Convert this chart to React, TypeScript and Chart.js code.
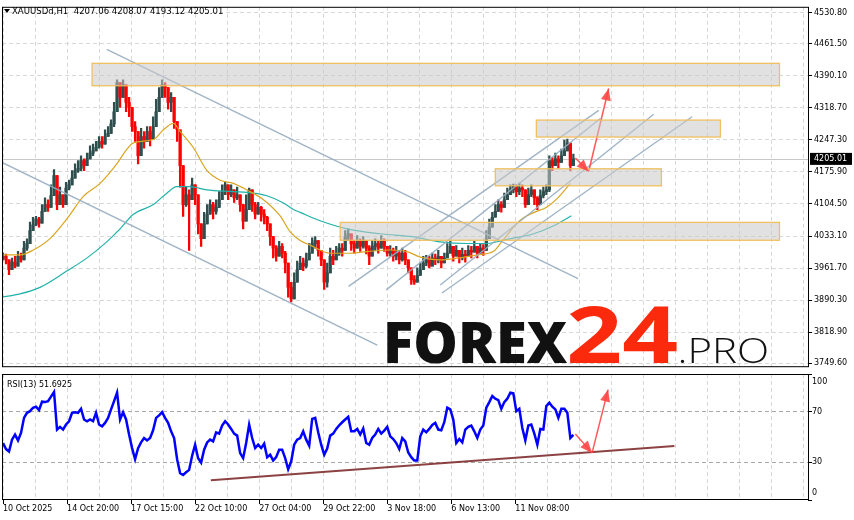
import React, { useEffect, useRef } from "react";
import { Chart, registerables } from "chart.js";

Chart.register(...registerables);

const FONT = "DejaVu Sans";
const TITLE = "XAUUSDd,H1  4207.06 4208.07 4193.12 4205.01";
const RSI_TITLE = "RSI(13) 51.6925";
const LAST_PRICE = 4205.01;

const PRICE_TICKS = [3749.6, 3818.9, 3890.3, 3961.7, 4033.1, 4104.5, 4175.9, 4247.3, 4318.7, 4390.1, 4461.5, 4530.8];
const RSI_TICKS = [0, 30, 70, 100];
const RSI_LEVELS = [30, 70];
const DATE_LABELS = ["10 Oct 2025", "14 Oct 20:00", "17 Oct 15:00", "22 Oct 10:00", "27 Oct 04:00", "29 Oct 22:00", "3 Nov 18:00", "6 Nov 13:00", "11 Nov 08:00"];
const LABEL_STEP = 64; // H1 bars between date labels
const GRID_STEP = 32; // H1 bars between vertical grid lines
const GRID_TICKS = Array.from({ length: 26 }, (_, i) => i * GRID_STEP);
const BAR_STEP = 3; // H1 bars represented by one drawn bar
const X_MIN = -1;
const X_MAX = 804.5;
const Y_MIN = 3740.7;
const Y_MAX = 4544.0;

const FIRST_OPEN = 3984;
const CLOSES = [
  3988, 3980, 3958, 3975, 3966, 3988, 3980, 4006, 4016, 4045,
  4058, 4071, 4062, 4088, 4103, 4097, 4123, 4168, 4103, 4125,
  4103, 4140, 4147, 4162, 4179, 4184, 4201, 4190, 4205, 4218,
  4223, 4231, 4244, 4238, 4255, 4262, 4283, 4310, 4375, 4342,
  4370, 4331, 4320, 4277, 4266, 4212, 4255, 4244, 4266, 4249,
  4277, 4310, 4342, 4370, 4364, 4331, 4342, 4288, 4270, 4190,
  4103, 4125, 4114, 4147, 4125, 4060, 4027, 4060, 4082, 4103,
  4088, 4097, 4114, 4132, 4147, 4125, 4136, 4118, 4125, 4103,
  4066, 4092, 4136, 4103, 4082, 4097, 4082, 4075, 4060, 4032,
  4006, 3988, 4010, 3995, 3973, 3919, 3893, 3930, 3958, 3973,
  3966, 3980, 3995, 4016, 4023, 4001, 3980, 3930, 3951, 3988,
  3980, 3995, 4006, 4001, 4032, 4038, 4016, 4006, 4023, 4010,
  4023, 4006, 3988, 4010, 4016, 4006, 4023, 4010, 3995, 4001,
  3988, 3995, 3980, 3995, 3980, 3962, 3936, 3930, 3945, 3958,
  3973, 3980, 3966, 3984, 3980, 3988, 3973, 3984, 3995, 4010,
  3988, 4001, 3984, 3992, 3988, 4001, 3997, 4010, 3995, 4006,
  4001, 4027, 4053, 4075, 4088, 4103, 4097, 4114, 4125, 4136,
  4144, 4132, 4140, 4136, 4103, 4125, 4136, 4118, 4103, 4123,
  4132, 4136, 4201, 4190, 4205, 4197, 4212, 4223, 4240, 4190, 4205.01,
];
const HIGHS = [
  3995, 3993, 3980, 3984, 3988, 3999, 3995, 4021, 4027, 4064,
  4075, 4077, 4075, 4103, 4118, 4114, 4147, 4181, 4125, 4142,
  4125, 4153, 4158, 4179, 4194, 4201, 4212, 4205, 4218, 4234,
  4238, 4244, 4255, 4255, 4270, 4277, 4292, 4331, 4381, 4368,
  4381, 4359, 4342, 4320, 4288, 4244, 4273, 4266, 4277, 4277,
  4299, 4338, 4364, 4381, 4375, 4359, 4353, 4310, 4288, 4244,
  4158, 4142, 4136, 4162, 4147, 4099, 4060, 4086, 4103, 4114,
  4108, 4114, 4132, 4147, 4153, 4142, 4147, 4136, 4142, 4125,
  4103, 4125, 4140, 4125, 4108, 4108, 4099, 4092, 4077, 4060,
  4016, 4012, 4021, 4016, 3999, 3962, 3930, 3951, 3977, 3988,
  3984, 3995, 4016, 4029, 4032, 4016, 3995, 3967, 3973, 4006,
  4001, 4010, 4016, 4016, 4045, 4049, 4032, 4023, 4034, 4027,
  4032, 4023, 4012, 4023, 4027, 4021, 4034, 4027, 4010, 4012,
  4006, 4010, 4001, 4006, 4001, 3980, 3962, 3945, 3962, 3973,
  3988, 3990, 3988, 3995, 3993, 4001, 3988, 3995, 4016, 4021,
  4006, 4012, 3999, 4006, 4001, 4012, 4010, 4021, 4010, 4016,
  4014, 4045, 4071, 4086, 4103, 4114, 4110, 4129, 4140, 4147,
  4149, 4147, 4151, 4147, 4129, 4140, 4147, 4132, 4121, 4136,
  4142, 4147, 4212, 4208, 4218, 4212, 4227, 4247, 4249, 4234, 4216,
];
const LOWS = [
  3980, 3971, 3947, 3962, 3962, 3977, 3975, 3990, 4001, 4034,
  4049, 4056, 4053, 4082, 4092, 4088, 4114, 4142, 4092, 4103,
  4097, 4132, 4136, 4158, 4168, 4175, 4179, 4179, 4197, 4208,
  4212, 4223, 4229, 4229, 4244, 4255, 4266, 4277, 4331, 4320,
  4349, 4310, 4299, 4266, 4244, 4194, 4229, 4229, 4244, 4234,
  4266, 4299, 4331, 4353, 4342, 4316, 4310, 4273, 4244, 4142,
  4077, 4099, 4001, 4125, 4103, 4038, 4010, 4043, 4060, 4082,
  4071, 4082, 4103, 4114, 4125, 4114, 4121, 4108, 4114, 4088,
  4049, 4071, 4114, 4088, 4071, 4082, 4066, 4060, 4045, 4012,
  3984, 3977, 3995, 3984, 3951, 3897, 3886, 3908, 3941, 3958,
  3956, 3962, 3988, 4006, 4006, 3988, 3967, 3914, 3919, 3973,
  3969, 3984, 3990, 3988, 4016, 4023, 4001, 3995, 4006, 3999,
  4006, 3993, 3969, 3995, 4001, 3995, 4006, 3999, 3988, 3988,
  3977, 3980, 3971, 3977, 3969, 3951, 3925, 3925, 3930, 3945,
  3962, 3967, 3962, 3971, 3969, 3973, 3962, 3973, 3984, 3995,
  3977, 3988, 3973, 3980, 3975, 3988, 3984, 3997, 3984, 3993,
  3990, 4012, 4038, 4060, 4075, 4088, 4086, 4103, 4114, 4125,
  4129, 4121, 4125, 4121, 4097, 4114, 4121, 4103, 4092, 4110,
  4118, 4125, 4132, 4179, 4190, 4184, 4201, 4212, 4223, 4179, 4194,
];

const RSI = [
  45.2, 40.4, 38.5, 47.9, 51.9, 47.3, 53.2, 65.2, 69.2, 70.5,
  73.2, 74.0, 71.3, 78.0, 77.7, 78.5, 82.0, 85.7, 55.9, 58.0,
  55.9, 59.9, 62.5, 69.2, 69.7, 69.2, 72.4, 63.9, 62.5, 63.9,
  62.5, 69.2, 59.9, 58.5, 61.2, 65.2, 71.9, 78.5, 85.2, 63.9,
  69.7, 63.9, 51.9, 41.2, 32.4, 41.2, 45.7, 49.2, 47.3, 49.2,
  55.3, 65.2, 67.1, 69.7, 65.2, 61.2, 54.5, 49.2, 32.4, 21.2,
  19.9, 22.0, 23.9, 35.1, 43.9, 33.2, 29.7, 39.9, 45.7, 47.9,
  46.5, 53.7, 52.7, 59.1, 62.5, 59.9, 56.4, 52.7, 51.1, 37.2,
  33.2, 45.2, 59.9, 49.2, 41.2, 43.9, 41.2, 44.7, 34.0, 35.9,
  31.3, 34.0, 39.9, 39.9, 33.2, 24.4, 30.5, 43.9, 47.9, 49.2,
  54.5, 47.9, 43.1, 64.4, 65.2, 53.7, 43.9, 35.9, 40.9, 51.1,
  52.7, 56.4, 59.3, 61.7, 63.9, 66.0, 54.5, 54.5, 56.4, 51.9,
  56.7, 45.2, 43.9, 49.2, 51.9, 56.4, 52.7, 55.1, 58.0, 50.5,
  48.4, 45.2, 40.4, 49.2, 46.5, 37.7, 34.0, 31.3, 31.3, 50.5,
  55.9, 53.7, 56.4, 59.6, 61.2, 55.9, 55.3, 61.7, 73.2, 71.9,
  63.9, 45.2, 48.4, 45.7, 55.9, 58.0, 59.1, 54.5, 49.2, 55.9,
  59.1, 73.2, 77.7, 82.5, 80.4, 79.3, 72.4, 77.7, 80.4, 85.2,
  84.7, 70.5, 72.4, 57.2, 47.3, 59.1, 59.9, 52.7, 43.9, 56.4,
  55.9, 74.5, 77.2, 74.0, 71.9, 65.2, 72.4, 72.4, 69.2, 49.2, 51.6925,
];

const MA_FAST_X = [0.3, 17, 30.3, 47, 63.7, 80.3, 97, 113.7, 123.7, 130.3, 150.3, 160.3, 170.3, 177, 190.3, 203.7, 217, 230.3, 243.7, 260.3, 277, 287, 297, 307, 327, 343.7, 363.7, 387, 403.7, 417, 437, 453.7, 473.7, 490.3, 500, 517, 530.3, 543.7, 553.7, 567];
const MA_FAST_Y = [3991, 3991, 4001.9, 4027.3, 4070.7, 4121.3, 4150.4, 4193.8, 4226.3, 4240.7, 4248.1, 4269.8, 4284.1, 4266.1, 4229.8, 4179.2, 4157.5, 4150.4, 4135.8, 4114.1, 4077.8, 4042.5, 4022.9, 4012.7, 3994.7, 3994.7, 3998.4, 4001.9, 3998.4, 3986, 3980.1, 3983.8, 3991, 3999, 4025.1, 4068.5, 4085.2, 4097.8, 4116.3, 4150.4];
const MA_SLOW_X = [-1, 17, 37, 63.7, 83.7, 103.7, 117, 130.3, 150.3, 163.7, 173.7, 187, 203.7, 230.3, 250.3, 263.7, 280.3, 290.3, 297, 317, 343.7, 377, 410.3, 437, 463.7, 483.7, 503.7, 530.3, 550.3, 568];
const MA_SLOW_Y = [3897, 3904.2, 3918.7, 3954.9, 3983.8, 4020.1, 4049, 4081.5, 4103.2, 4128.6, 4143, 4143, 4135.8, 4132.1, 4128.6, 4122.8, 4106.9, 4092.4, 4085.9, 4067, 4049, 4038.1, 4031, 4020.1, 4016.4, 4016.4, 4025.7, 4038.1, 4056.1, 4078.3];

// zones: bar position from/to, top price, bottom price
const ZONE_X1 = [89, 533, 492, 337];
const ZONE_X2 = [776, 717, 658, 776];
const ZONE_TOP = [4418, 4291.5, 4183, 4063.5];
const ZONE_BOT = [4368, 4253.7, 4145, 4023.6];

// trend lines: [x1, price1, x2, price2]
const TREND_LINES = [
  [103.7, 4449, 574.7, 3938],
  [-1, 4197, 374, 3790],
  [345.3, 3921, 595.3, 4313],
  [383, 3913, 597, 4295],
  [437, 3924, 650.3, 4304.5],
  [438.7, 3906, 688.7, 4299],
];
const PRICE_ARROWS = [
  [572, 4207, 585.3, 4177],
  [585.3, 4177, 605.3, 4362],
];
const RSI_ARROWS = [
  [572, 52.4, 588.7, 37.4],
  [588.7, 37.4, 604.7, 87.6],
];
const RSI_TREND = [207.7, 15.6, 671, 42.8];

const BULL = "#2f4f4f";
const BEAR = "#ff0000";
const GRID = "#d8d8d8";
const ARROW = "rgba(255,70,70,0.9)";
const TREND = "rgba(150,172,192,0.9)";

function seg(l: number[], color: string, width: number, order: number) {
  return {
    type: "line",
    data: [{ x: l[0], y: l[1] }, { x: l[2], y: l[3] }],
    borderColor: color,
    borderWidth: width,
    pointRadius: 0,
    fill: false,
    tension: 0,
    order,
  };
}

function drawHead(ctx: CanvasRenderingContext2D, x1: number, y1: number, x2: number, y2: number) {
  const ang = Math.atan2(y2 - y1, x2 - x1);
  const len = 12;
  const w = 5;
  ctx.save();
  ctx.fillStyle = ARROW;
  ctx.beginPath();
  ctx.moveTo(x2, y2);
  ctx.lineTo(x2 - len * Math.cos(ang) + w * Math.sin(ang), y2 - len * Math.sin(ang) - w * Math.cos(ang));
  ctx.lineTo(x2 - len * Math.cos(ang) - w * Math.sin(ang), y2 - len * Math.sin(ang) + w * Math.cos(ang));
  ctx.closePath();
  ctx.fill();
  ctx.restore();
}

function drawWord(ctx: CanvasRenderingContext2D, text: string, weight: number, size: number, family: string, color: string, left: number, right: number, baseline: number) {
  ctx.save();
  ctx.font = `${weight} ${size}px "${family}"`;
  ctx.textAlign = "left";
  ctx.textBaseline = "alphabetic";
  const m = ctx.measureText(text);
  const inkW = m.actualBoundingBoxLeft + m.actualBoundingBoxRight;
  const sx = (right - left) / inkW;
  ctx.translate(left, baseline);
  ctx.scale(sx, 1);
  ctx.fillStyle = color;
  ctx.fillText(text, m.actualBoundingBoxLeft, 0);
  ctx.restore();
}

function xScale(withLabels: boolean) {
  return {
    type: "linear",
    min: X_MIN,
    max: X_MAX,
    offset: false,
    afterBuildTicks: (s: any) => {
      s.ticks = GRID_TICKS.map((v) => ({ value: v }));
    },
    afterFit: (s: any) => {
      s.height = withLabels ? 20 : 0;
    },
    ticks: {
      display: withLabels,
      autoSkip: false,
      maxRotation: 0,
      minRotation: 0,
      align: "start",
      padding: 0,
      color: "#000",
      font: { family: FONT, size: 8 },
      callback: (v: any) => {
        const i = Number(v) / LABEL_STEP;
        return Number.isInteger(i) && i < DATE_LABELS.length ? DATE_LABELS[i] : "";
      },
    },
    grid: {
      color: GRID,
      lineWidth: 1,
      offset: false,
      drawTicks: withLabels,
      tickLength: 4,
      tickWidth: 1,
      tickBorderDash: [],
      tickColor: (c: any) => {
        const v = c.tick ? c.tick.value : -1;
        return v % LABEL_STEP === 0 && v / LABEL_STEP < DATE_LABELS.length ? "#000" : "rgba(0,0,0,0)";
      },
    },
    border: { display: false, dash: [4, 3] },
  };
}

export default function App() {
  const mainRef = useRef<HTMLCanvasElement | null>(null);
  const rsiRef = useRef<HTMLCanvasElement | null>(null);

  useEffect(() => {
    const opens = CLOSES.map((c, k) => (k === 0 ? FIRST_OPEN : CLOSES[k - 1]));
    const barColors = CLOSES.map((c, k) => (c >= opens[k] ? BULL : BEAR));
    const rangeData = CLOSES.map((c, k) => ({
      x: k * BAR_STEP,
      y: [Math.min(LOWS[k], opens[k], c), Math.max(HIGHS[k], opens[k], c)],
    }));
    const bodyData = CLOSES.map((c, k) => ({ x: k * BAR_STEP, y: [opens[k], c] }));

    const mainDecor = {
      id: "mainDecor",
      beforeDatasetsDraw(chart: any) {
        const { ctx, chartArea: a, scales } = chart;
        const py = Math.round(scales.y.getPixelForValue(LAST_PRICE)) + 0.5;
        ctx.save();
        ctx.strokeStyle = "#c8c8c8";
        ctx.lineWidth = 1;
        ctx.beginPath();
        ctx.moveTo(a.left, py);
        ctx.lineTo(a.right, py);
        ctx.stroke();
        ctx.restore();
      },
      afterDatasetsDraw(chart: any) {
        const { ctx, scales } = chart;
        const xs = scales.x;
        const ys = scales.y;
        ctx.save();
        for (let i = 0; i < ZONE_X1.length; i++) {
          const x1 = xs.getPixelForValue(ZONE_X1[i]);
          const x2 = xs.getPixelForValue(ZONE_X2[i]);
          const y1 = ys.getPixelForValue(ZONE_TOP[i]);
          const y2 = ys.getPixelForValue(ZONE_BOT[i]);
          ctx.fillStyle = "rgba(200,200,200,0.55)";
          ctx.fillRect(x1, y1, x2 - x1, y2 - y1);
          ctx.strokeStyle = "rgba(240,190,90,0.95)";
          ctx.lineWidth = 1.3;
          ctx.strokeRect(x1, y1, x2 - x1, y2 - y1);
        }
        ctx.restore();
        for (const l of PRICE_ARROWS) {
          drawHead(ctx, xs.getPixelForValue(l[0]), ys.getPixelForValue(l[1]), xs.getPixelForValue(l[2]), ys.getPixelForValue(l[3]));
        }
      },
      afterDraw(chart: any) {
        const { ctx, chartArea: a, scales } = chart;
        ctx.save();
        ctx.strokeStyle = "#000";
        ctx.lineWidth = 1;
        ctx.strokeRect(a.left + 0.5, a.top + 0.5, a.right - a.left, a.bottom - a.top - 1);
        // current price box
        const py = scales.y.getPixelForValue(LAST_PRICE);
        ctx.fillStyle = "#000";
        ctx.fillRect(a.right + 2, py - 6, 42, 12);
        ctx.fillStyle = "#fff";
        ctx.font = `8px "${FONT}"`;
        ctx.textBaseline = "middle";
        ctx.textAlign = "left";
        ctx.fillText(LAST_PRICE.toFixed(2), a.right + 6, py);
        // title
        ctx.fillStyle = "#000";
        ctx.beginPath();
        ctx.moveTo(4, 9);
        ctx.lineTo(10, 9);
        ctx.lineTo(7, 13);
        ctx.closePath();
        ctx.fill();
        ctx.restore();
        drawWord(ctx, TITLE, 400, 8.5, FONT, "#000", 12, 223, 13.5);
        // watermark
        drawWord(ctx, "FOREX", 800, 57, "Open Sans", "#111", 387, 568, 363.3);
        drawWord(ctx, "24", 700, 79, "Open Sans", "#fb2a0c", 570, 676.7, 363.3);
        drawWord(ctx, ".PRO", 300, 34, "Open Sans", "#111", 680, 766.7, 363.3);
      },
    };

    const mainChart = new Chart(mainRef.current as HTMLCanvasElement, {
      type: "bar",
      data: {
        datasets: [
          {
            type: "bar",
            data: rangeData,
            backgroundColor: barColors,
            borderWidth: 0,
            barThickness: 1.6,
            minBarLength: 1,
            grouped: false,
            order: 20,
          },
          {
            type: "bar",
            data: bodyData,
            backgroundColor: barColors,
            borderWidth: 0,
            barThickness: 2.6,
            minBarLength: 1,
            grouped: false,
            order: 19,
          },
          {
            type: "line",
            data: MA_SLOW_X.map((x, i) => ({ x, y: MA_SLOW_Y[i] })),
            borderColor: "#20b2aa",
            borderWidth: 1.2,
            pointRadius: 0,
            cubicInterpolationMode: "monotone",
            order: 12,
          },
          {
            type: "line",
            data: MA_FAST_X.map((x, i) => ({ x, y: MA_FAST_Y[i] })),
            borderColor: "#daa520",
            borderWidth: 1.2,
            pointRadius: 0,
            cubicInterpolationMode: "monotone",
            order: 11,
          },
          ...TREND_LINES.map((l) => seg(l, TREND, 1.4, 5)),
          ...PRICE_ARROWS.map((l) => seg(l, ARROW, 1.5, 1)),
        ] as any,
      },
      options: {
        responsive: false,
        animation: false,
        events: [],
        layout: { padding: { left: 2, top: 2, right: 0, bottom: 2 } },
        plugins: { legend: { display: false }, tooltip: { enabled: false } },
        scales: {
          x: xScale(false) as any,
          y: {
            type: "linear",
            position: "right",
            min: Y_MIN,
            max: Y_MAX,
            afterBuildTicks: (s: any) => {
              s.ticks = PRICE_TICKS.map((v) => ({ value: v }));
            },
            afterFit: (s: any) => {
              s.width = 46;
            },
            ticks: {
              autoSkip: false,
              padding: 2,
              color: "#000",
              font: { family: FONT, size: 8 },
              callback: (v: any) => Number(v).toFixed(2),
            },
            grid: { color: GRID, drawTicks: true, tickLength: 4, tickColor: "#000", tickBorderDash: [] },
            border: { display: false, dash: [4, 3] },
          } as any,
        },
      },
      plugins: [mainDecor as any],
    });

    const rsiDecor = {
      id: "rsiDecor",
      afterDatasetsDraw(chart: any) {
        const { ctx, scales } = chart;
        for (const l of RSI_ARROWS) {
          drawHead(ctx, scales.x.getPixelForValue(l[0]), scales.y.getPixelForValue(l[1]), scales.x.getPixelForValue(l[2]), scales.y.getPixelForValue(l[3]));
        }
      },
      afterDraw(chart: any) {
        const { ctx, chartArea: a, scales } = chart;
        ctx.save();
        ctx.strokeStyle = "#000";
        ctx.lineWidth = 1;
        ctx.strokeRect(a.left + 0.5, a.top + 0.5, a.right - a.left, a.bottom - a.top - 1);
        ctx.fillStyle = "#000";
        ctx.font = `8px "${FONT}"`;
        ctx.textAlign = "left";
        ctx.textBaseline = "middle";
        for (const v of RSI_TICKS) {
          let py = scales.y.getPixelForValue(v);
          py = Math.min(Math.max(py, a.top + 7.5), a.bottom - 7.5);
          ctx.fillText(String(v), a.right + 4, py);
        }
        ctx.textBaseline = "alphabetic";
        ctx.fillText(RSI_TITLE, 7, a.top + 12.5);
        ctx.restore();
      },
    };

    const rsiChart = new Chart(rsiRef.current as HTMLCanvasElement, {
      type: "line",
      data: {
        datasets: [
          {
            data: RSI.map((v, k) => ({ x: k * BAR_STEP, y: v })),
            borderColor: "#0000ff",
            borderWidth: 2.5,
            pointRadius: 0,
            tension: 0,
            order: 10,
          },
          seg(RSI_TREND, "rgba(128,45,45,0.9)", 2, 5),
          ...RSI_ARROWS.map((l) => seg(l, ARROW, 1.5, 1)),
        ] as any,
      },
      options: {
        responsive: false,
        animation: false,
        events: [],
        layout: { padding: { left: 2, top: 2, right: 0, bottom: 0 } },
        plugins: { legend: { display: false }, tooltip: { enabled: false } },
        scales: {
          x: xScale(true) as any,
          y: {
            type: "linear",
            position: "right",
            min: 0,
            max: 100,
            afterBuildTicks: (s: any) => {
              s.ticks = RSI_TICKS.map((v) => ({ value: v }));
            },
            afterFit: (s: any) => {
              s.width = 46;
            },
            ticks: { display: false },
            grid: {
              color: (c: any) => (c.tick && RSI_LEVELS.includes(c.tick.value) ? "#a8a8a8" : "rgba(0,0,0,0)"),
              drawTicks: true,
              tickLength: 4,
              tickColor: "#000",
              tickBorderDash: [],
            },
            border: { display: false, dash: [4, 3] },
          } as any,
        },
      },
      plugins: [rsiDecor as any],
    });

    return () => {
      mainChart.destroy();
      rsiChart.destroy();
    };
  }, []);

  return (
    <div style={{ position: "absolute", left: 0, top: 0, width: 854, height: 520, background: "#fff", overflow: "hidden" }}>
      <canvas ref={mainRef} width={854} height={374} style={{ position: "absolute", left: 0, top: 0 }} />
      <canvas ref={rsiRef} width={854} height={148} style={{ position: "absolute", left: 0, top: 372 }} />
    </div>
  );
}
